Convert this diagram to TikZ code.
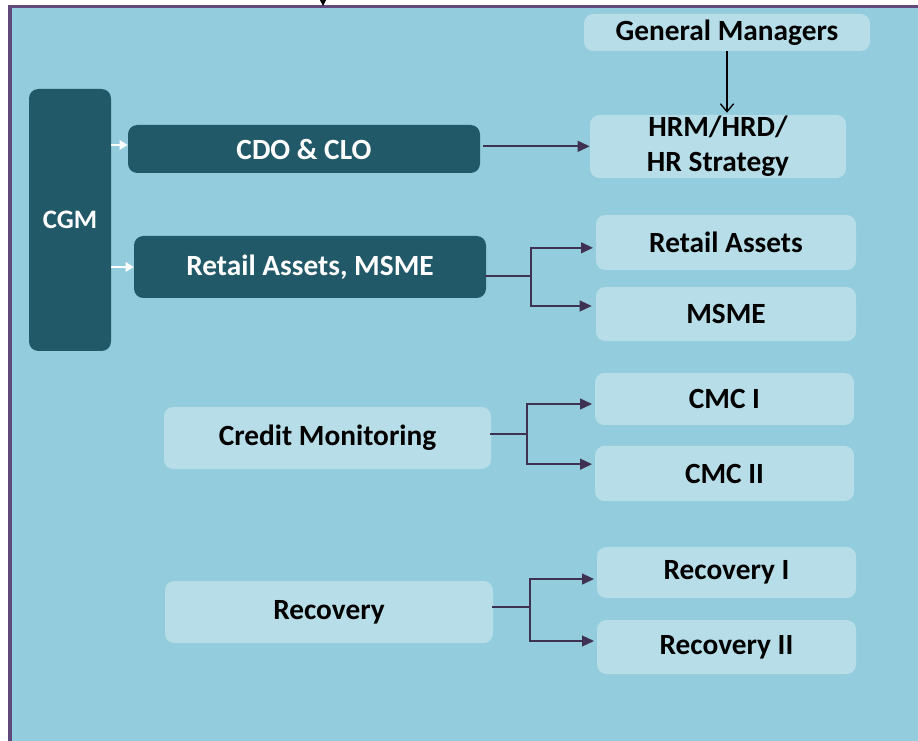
\documentclass[tikz,border=0pt]{standalone}
\usepackage{fontspec}
\setmainfont{Carlito}
\usetikzlibrary{arrows.meta}
\definecolor{panelblue}{HTML}{93CCDD}
\definecolor{framepurple}{HTML}{604A7B}
\definecolor{darkteal}{HTML}{215968}
\definecolor{paleblue}{HTML}{B7DEE8}
\definecolor{linkpurple}{HTML}{3F3151}
\begin{document}
\begin{tikzpicture}[x=0.75pt,y=-0.75pt,
		darkbox/.style={rectangle,rounded corners=7pt,fill=darkteal,text=white,inner sep=0pt,font=\bfseries\fontsize{22}{26}\selectfont},
		palebox/.style={rectangle,rounded corners=7pt,fill=paleblue,text=black,inner sep=0pt,align=center,font=\bfseries\fontsize{22}{26}\selectfont},
		link/.style={draw=linkpurple,line width=1.6pt,-{Triangle[length=9pt,width=8pt]}},
		feed/.style={draw=white,line width=1.3pt,-{Triangle[length=6pt,width=7pt]}}]
			\useasboundingbox[fill=white] (0,0) rectangle (918,741);
			\draw[framepurple,line width=2.5pt,fill=panelblue] (10,6.5) rectangle (940,770);
			\coordinate (topout) at (323,-20);
			\coordinate (topin) at (323,6);
			\draw[-{Stealth[length=6pt,width=6pt]}] (topout) -- (topin);
			% left column
			\node[darkbox,minimum width=61.5pt,minimum height=196.5pt,font=\bfseries\fontsize{20}{24}\selectfont] (cgm) at (70,220) {CGM};
			\node[darkbox,minimum width=264pt,minimum height=36pt] (cdo) at (304,149) {CDO \& CLO};
			\node[darkbox,minimum width=264pt,minimum height=46.5pt] (ram) at (310,267) {Retail Assets, MSME};
			\node[palebox,minimum width=245.25pt,minimum height=46.5pt] (cm) at (327.5,438) {Credit Monitoring};
			\node[palebox,minimum width=246pt,minimum height=46.5pt] (rec) at (329,612) {Recovery};
			% right column
			\node[palebox,minimum width=214.5pt,minimum height=27.75pt] (gm) at (727,32.5) {General Managers};
			\node[palebox,minimum width=192pt,minimum height=47.25pt] (hrm) at (718,146.5) {HRM/HRD/\\HR Strategy};
			\node[palebox,minimum width=195pt,minimum height=41.25pt] (ra) at (726,242.5) {Retail Assets};
			\node[palebox,minimum width=195pt,minimum height=40.5pt] (msme) at (726,314) {MSME};
			\node[palebox,minimum width=194.25pt,minimum height=39pt] (cmc1) at (724.5,399) {CMC I};
			\node[palebox,minimum width=194.25pt,minimum height=41.25pt] (cmc2) at (724.5,473.5) {CMC II};
			\node[palebox,minimum width=194.25pt,minimum height=38.25pt] (rec1) at (726.5,572.5) {Recovery I};
			\node[palebox,minimum width=194.25pt,minimum height=40.5pt] (rec2) at (726.5,647) {Recovery II};
			% connectors
			\draw[feed] ([yshift=3pt]cgm.east |- cdo.west) -- ([yshift=3pt]cdo.west);
			\draw[feed] (cgm.east |- ram.west) -- (ram.west);
			\draw[link,shorten <=2pt] ([yshift=2pt]cdo.east) -- ([yshift=2pt]cdo.east -| hrm.west);
			\draw[line width=1pt,-{Straight Barb[length=6pt,width=10pt]}] (gm.south) -- ([yshift=1.5pt]gm.south |- hrm.north);
			\coordinate (rbr) at (531,276);
			\draw[linkpurple,line width=1.6pt,shorten <=-1pt] (ram.east |- rbr) -- (rbr);
			\draw[link] (rbr) |- ([xshift=-2pt,yshift=-4pt]ra.west);
			\draw[link] (rbr) |- ([xshift=-3pt,yshift=6pt]msme.west);
			\coordinate (cbr) at (527,434);
			\draw[linkpurple,line width=1.6pt,shorten <=-1pt] (cm.east |- cbr) -- (cbr);
			\draw[link] (cbr) |- ([xshift=-2pt,yshift=-3.75pt]cmc1.west);
			\draw[link] (cbr) |- ([xshift=-2pt,yshift=7pt]cmc2.west);
			\coordinate (vbr) at (530,607);
			\draw[linkpurple,line width=1.6pt,shorten <=-1pt] (rec.east |- vbr) -- (vbr);
			\draw[link] (vbr) |- ([xshift=-2pt,yshift=-4.9pt]rec1.west);
			\draw[link] (vbr) |- ([xshift=-2pt,yshift=4.5pt]rec2.west);
		\end{tikzpicture}
\end{document}
